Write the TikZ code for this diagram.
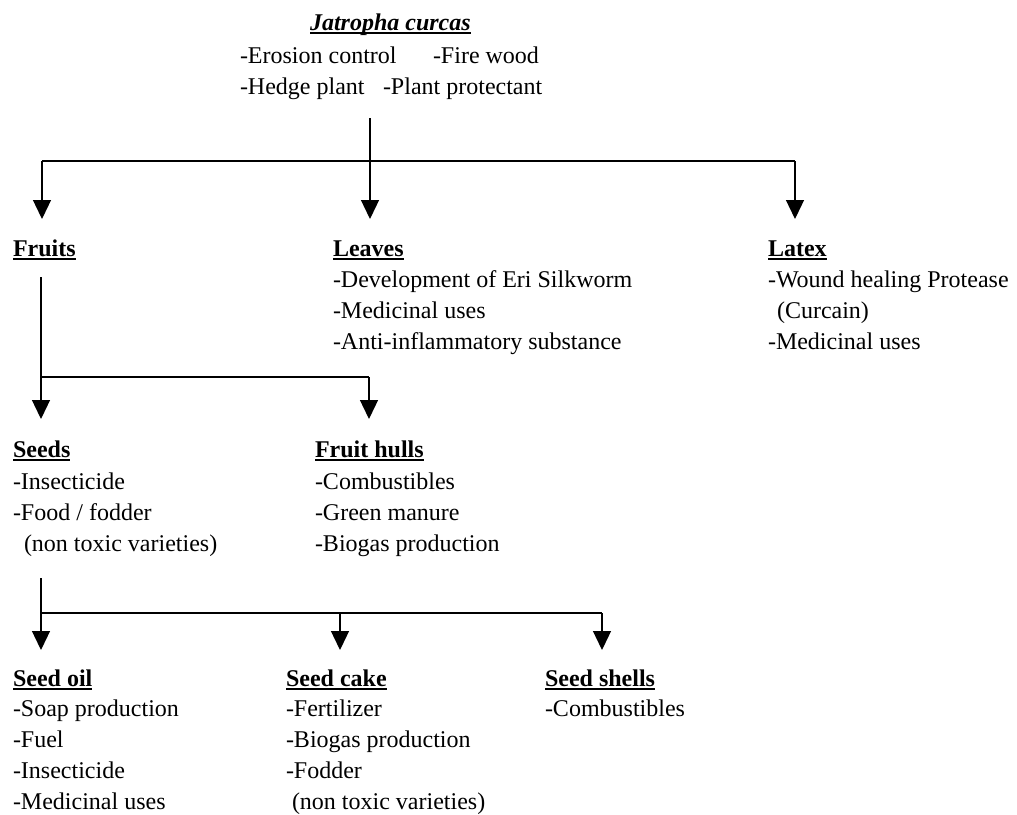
\documentclass[tikz,border=0pt]{standalone}
\usepackage{fontspec}
\setmainfont{Liberation Serif}
\usetikzlibrary{arrows.meta}
\newsavebox\ulbox
\newcommand{\hdr}[1]{\sbox\ulbox{\bfseries #1}\rlap{\rule[-3.5pt]{\wd\ulbox}{1.4pt}}\usebox\ulbox}
\newcommand{\ttl}[1]{\sbox\ulbox{\bfseries\itshape #1}\rlap{\rule[-3.5pt]{\wd\ulbox}{1.4pt}}\usebox\ulbox}
\begin{document}
\begin{tikzpicture}[x=1pt,y=-1pt,
  txt/.style={inner sep=0pt, outer sep=0pt, anchor=base west, font=\fontsize{24}{31}\selectfont},
  link/.style={line width=1.3pt},
  arr/.style={line width=1.3pt, -{Triangle[width=18pt,length=19pt]}}]
\useasboundingbox (0,0) rectangle (1017,814);
% title block
\node[txt] (title) at (310,30) {\ttl{Jatropha curcas}};
\node[txt] (u1) at (240,63) {-Erosion control};
\node[txt] (u2) at (433,63) {-Fire wood};
\node[txt] (u3) at (240,94) {-Hedge plant};
\node[txt] (u4) at (383,94) {-Plant protectant};
% level 1
\node[txt] (fruits) at (13,256) {\hdr{Fruits}};
\node[txt] (leaves) at (333,256) {\hdr{Leaves}};
\node[txt] (latex) at (768,256) {\hdr{Latex}};
\node[txt] (leavesL) at (333,287) {\begin{tabular}[t]{@{}l@{}}-Development of Eri Silkworm\\-Medicinal uses\\-Anti-inflammatory substance\end{tabular}};
\node[txt] (latexL) at (768,287) {\begin{tabular}[t]{@{}l@{}}-Wound healing Protease\\\hspace{9pt}(Curcain)\\-Medicinal uses\end{tabular}};
% level 2
\node[txt] (seeds) at (13,457) {\hdr{Seeds}};
\node[txt] (hulls) at (315,457) {\hdr{Fruit hulls}};
\node[txt] (seedsL) at (13,489) {\begin{tabular}[t]{@{}l@{}}-Insecticide\\-Food / fodder\\\hspace{11pt}(non toxic varieties)\end{tabular}};
\node[txt] (hullsL) at (315,489) {\begin{tabular}[t]{@{}l@{}}-Combustibles\\-Green manure\\-Biogas production\end{tabular}};
% level 3
\node[txt] (oil) at (13,686) {\hdr{Seed oil}};
\node[txt] (cake) at (286,686) {\hdr{Seed cake}};
\node[txt] (shells) at (545,686) {\hdr{Seed shells}};
\node[txt] (oilL) at (13,716) {\begin{tabular}[t]{@{}l@{}}-Soap production\\-Fuel\\-Insecticide\\-Medicinal uses\end{tabular}};
\node[txt] (cakeL) at (286,716) {\begin{tabular}[t]{@{}l@{}}-Fertilizer\\-Biogas production\\-Fodder\\\hspace{6pt}(non toxic varieties)\end{tabular}};
\node[txt] (shellsL) at (545,716) {-Combustibles};
% connector points
\coordinate (j0) at (370,118);
\coordinate (j1) at (370,161);
\coordinate (jL) at (42,161);
\coordinate (jR) at (795,161);
\coordinate (aFruits) at (42,219);
\coordinate (aLeaves) at (370,219);
\coordinate (aLatex) at (795,219);
\coordinate (f0) at (41,277);
\coordinate (f1) at (41,377);
\coordinate (f2) at (369,377);
\coordinate (aSeeds) at (41,419);
\coordinate (aHulls) at (369,419);
\coordinate (s0) at (41,578);
\coordinate (s1) at (41,613);
\coordinate (s2) at (340,613);
\coordinate (s3) at (602,613);
\coordinate (aOil) at (41,650);
\coordinate (aCake) at (340,650);
\coordinate (aShells) at (602,650);
% connectors
\draw[link] (j0) -- (j1);
\draw[link] (jL) -- (jR);
\draw[arr] (jL) -- (aFruits);
\draw[arr] (j1) -- (aLeaves);
\draw[arr] (jR) -- (aLatex);
\draw[link] (f0) -- (f1) -- (f2);
\draw[arr] (f1) -- (aSeeds);
\draw[arr] (f2) -- (aHulls);
\draw[link] (s0) -- (s1) -- (s3);
\draw[arr] (s1) -- (aOil);
\draw[arr] (s2) -- (aCake);
\draw[arr] (s3) -- (aShells);
\end{tikzpicture}
\end{document}
